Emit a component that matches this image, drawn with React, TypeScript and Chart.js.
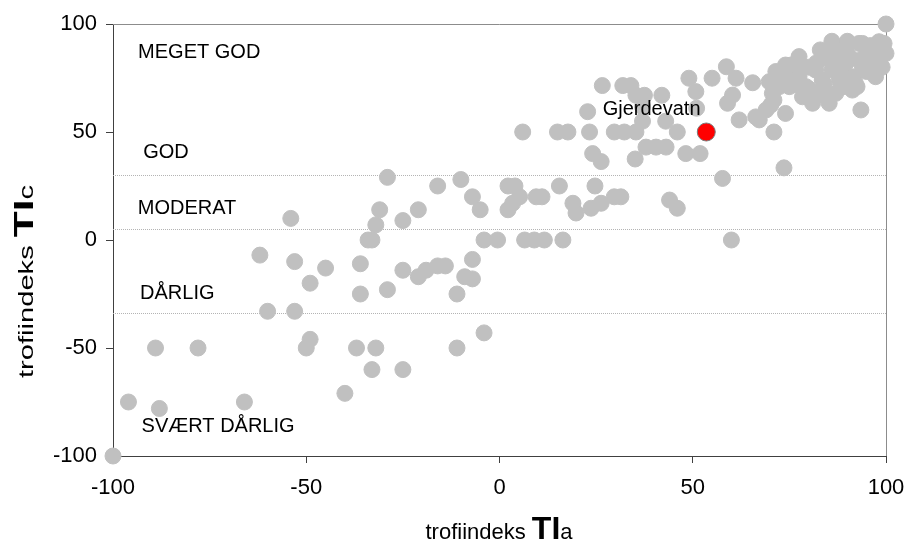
import React, { useEffect, useRef } from "react";
import { Chart, registerables } from "chart.js";

Chart.register(...registerables);

// Trofiindeks TIa (x) and TIc (y) for all lakes
const taValues = [
  -100, -96, -89, -88, -78, -66, -62, -60, -54, -53, -53, -49, -45, -50, -49, -37, -40, -36, -36, -34,
  -33, -32, -31, -29, -32, -33, -29, -25, -25, -21, -19, -16, -14, -11, -11, -9, -7, -7, -4, -25,
  -21, -16, -10, -7, -5, -4, -0.5,
  6.5, 9, 11.6, 16.4, 60, 2.2, 4, 5.2, 3.4, 2.2, 9.5, 11, 15.5, 19, 19.8, 23.7, 26.3, 24.7, 29.7,
  31.4, 44, 46, 57.7, 73.6,
  6, 15, 17.7, 23.3, 29.7, 32.3, 35.3, 46, 71,
  24.1, 26.3, 35.1, 37.9, 40.5, 43.1, 48.2, 51.9,
  22.8, 26.6, 31.9, 34, 35.3, 37.5, 37, 42, 49, 50.8, 55, 58.7, 61.2, 65.5, 59, 60.3, 62, 67.2, 74,
  93.5, 51, 37, 43,
  100, 98.2, 100, 95.6, 93, 89.6, 86, 83, 77.5, 74, 71.5, 69.8, 70.6, 70.2, 69, 66.3, 78.4, 81, 85.3,
  91.3, 81.8, 86, 89.6, 93.9, 97.3, 97.3, 99, 77.5, 75, 83.5, 87.9, 91.3, 87, 79.3, 72.4, 76.5, 84,
  92.5, 95, 88, 80, 90, 96, 99, 94, 72, 75.4, 71, 99.5, 93.9,
  82, 85, 91, 95, 88, 92, 80, 84, 96, 90, 86, 78, 74, 81, 89,
];
const tcValues = [
  -100, -75, -50, -78, -50, -75, -7, -33, 10, -10, -33, -20, -13, -50, -46, -50, -71, -11, -25, 0,
  0, 7, 14, 29, -50, -60, -23, -60, -14, -17, -14, -12, -12, -25, -50, -17, -18, -9, -43, 9,
  14, 25, 28, 20, 14, 0, 0,
  0, 0, 0, 0, 0, 25, 25, 20, 17, 14, 20, 20, 25, 17, 12.5, 14.7, 17, 25, 20,
  20, 18.5, 14.7, 28.5, 33.4,
  50, 50, 50, 50, 50, 50, 50, 50, 50,
  40, 36.3, 37.5, 43, 43, 43, 40, 40,
  59.4, 71.5, 71.5, 71.5, 67, 67, 61.7, 67, 74.9, 68.7, 74.9, 80.2, 74.9, 72.8, 63.3, 67.1, 55.6, 55.6, 58.6,
  60.2, 61, 55, 55,
  100, 91.8, 86.4, 89.5, 91, 89.5, 88.7, 88, 84.9, 81, 78, 73.3, 67.9, 62.5, 60.2, 57, 66.3, 63.3, 63.3,
  69.4, 78.7, 78.7, 81.8, 80.2, 75.6, 83.3, 89.5, 75.6, 71, 74, 74, 75.6, 67.9, 71, 71, 72, 67,
  71, 78, 84, 80, 86, 86, 80, 84, 75.6, 81, 64.8, 91, 91,
  82, 84, 84, 82, 78, 73, 70, 72, 90, 92, 92, 80, 76, 68, 71,
];

// Highlighted lake
const highlightName = "Gjerdevatn";
const highlightTa = [53.5];
const highlightTc = [50];
const highlightLabelTa = 26.7;
const highlightLabelTc = 60.5;

// Axis
const axisMin = -100;
const axisMax = 100;
const axisStep = 50;

// Class boundaries (dotted lines) and class names
const classBounds = [30, 5, -34];
const classNames = ["MEGET GOD", "GOD", "MODERAT", "DÅRLIG", "SVÆRT DÅRLIG"];
const classLabelTa = [-93.5, -92.2, -93.6, -93, -92.6];
const classLabelTc = [87, 40.6, 14.7, -24.7, -86.4];

const FONT = "'Liberation Sans', Arial, Helvetica, sans-serif";

type Part = { text: string; font: string };
const xTitleParts: Part[] = [
  { text: "trofiindeks ", font: `22px ${FONT}` },
  { text: "TI", font: `bold 32px ${FONT}` },
  { text: "a", font: `22px ${FONT}` },
];
const yTitleParts: Part[] = [
  { text: "trofiindeks ", font: `22px ${FONT}` },
  { text: "TI", font: `bold 32px ${FONT}` },
  { text: "c", font: `22px ${FONT}` },
];

function partsWidth(ctx: CanvasRenderingContext2D, parts: Part[]) {
  let w = 0;
  for (const p of parts) {
    ctx.font = p.font;
    w += ctx.measureText(p.text).width;
  }
  return w;
}

function drawParts(ctx: CanvasRenderingContext2D, parts: Part[], startX: number, baseY: number) {
  let x = startX;
  ctx.textBaseline = "alphabetic";
  ctx.textAlign = "left";
  for (const p of parts) {
    ctx.font = p.font;
    ctx.fillText(p.text, x, baseY);
    x += ctx.measureText(p.text).width;
  }
}

export default function App() {
  const ref = useRef<HTMLCanvasElement>(null);

  useEffect(() => {
    document.body.style.margin = "0";
    const canvas = ref.current;
    if (!canvas) return;

    const overlay = {
      id: "overlay",
      beforeDatasetsDraw(chart: any) {
        const { ctx, chartArea: a, scales } = chart;
        ctx.save();
        ctx.strokeStyle = "#b4b4b4";
        ctx.lineWidth = 1;
        ctx.setLineDash([1, 1]);
        for (const b of classBounds) {
          const py = Math.round(scales.y.getPixelForValue(b)) + 0.5;
          ctx.beginPath();
          ctx.moveTo(a.left, py);
          ctx.lineTo(a.right, py);
          ctx.stroke();
        }
        ctx.setLineDash([]);
        ctx.strokeStyle = "#8c8c8c";
        ctx.beginPath();
        ctx.moveTo(a.left, Math.round(a.top) + 0.5);
        ctx.lineTo(Math.round(a.right) + 0.5, Math.round(a.top) + 0.5);
        ctx.lineTo(Math.round(a.right) + 0.5, a.bottom);
        ctx.stroke();
        ctx.restore();
      },
      afterDatasetsDraw(chart: any) {
        const { ctx, scales } = chart;
        ctx.save();
        ctx.fillStyle = "#000";
        ctx.textAlign = "left";
        ctx.textBaseline = "middle";
        ctx.font = `20px ${FONT}`;
        classNames.forEach((name, i) => {
          ctx.fillText(name, scales.x.getPixelForValue(classLabelTa[i]), scales.y.getPixelForValue(classLabelTc[i]));
        });
        ctx.fillText(highlightName, scales.x.getPixelForValue(highlightLabelTa), scales.y.getPixelForValue(highlightLabelTc));
        ctx.restore();
      },
      afterDraw(chart: any) {
        const { ctx, chartArea: a } = chart;
        ctx.save();
        ctx.fillStyle = "#000";
        // x title
        const wx = partsWidth(ctx, xTitleParts);
        const cx = (a.left + a.right) / 2 - 0.5;
        drawParts(ctx, xTitleParts, cx - wx / 2, 539);
        // y title (rotated, stretched)
        const wy = partsWidth(ctx, yTitleParts);
        const targetLen = 193;
        const sx = targetLen / wy;
        ctx.translate(33, 281.5);
        ctx.rotate(-Math.PI / 2);
        ctx.scale(sx, 0.88);
        drawParts(ctx, yTitleParts, -wy / 2, 0);
        ctx.restore();
      },
    };

    const chart = new Chart(canvas, {
      type: "scatter",
      data: {
        datasets: [
          {
            label: highlightName,
            data: highlightTa.map((x, i) => ({ x, y: highlightTc[i] })),
            backgroundColor: "#ff0000",
            borderColor: "#7a7a7a",
            borderWidth: 1,
            pointRadius: 9,
          },
          {
            label: "innsjøer",
            data: taValues.map((x, i) => ({ x, y: tcValues[i] })),
            backgroundColor: "#c0c0c0",
            borderColor: "#c0c0c0",
            borderWidth: 1,
            pointRadius: 8,
          },
        ],
      },
      options: {
        animation: false,
        responsive: false,
        devicePixelRatio: 1,
        events: [],
        clip: false,
        layout: { autoPadding: false, padding: { left: 0, top: 24, right: 20, bottom: 0 } },
        plugins: {
          legend: { display: false },
          tooltip: { enabled: false },
          title: { display: false },
        },
        scales: {
          x: {
            type: "linear",
            min: axisMin,
            max: axisMax,
            ticks: {
              stepSize: axisStep,
              color: "#000",
              font: { family: FONT, size: 22, lineHeight: 2.3 },
              padding: 0,
              maxRotation: 0,
            },
            grid: { display: true, drawOnChartArea: false, drawTicks: true, tickLength: 7, color: "#404040" },
            border: { display: true, color: "#404040", width: 1 },
            afterFit(scale: any) {
              scale.height = 85;
            },
          },
          y: {
            type: "linear",
            min: axisMin,
            max: axisMax,
            ticks: {
              stepSize: axisStep,
              color: "#000",
              font: { family: FONT, size: 22 },
              padding: 9,
            },
            grid: { display: true, drawOnChartArea: false, drawTicks: true, tickLength: 7, color: "#404040" },
            border: { display: true, color: "#404040", width: 1 },
            afterFit(scale: any) {
              scale.width = 113;
            },
          },
        },
      },
      plugins: [overlay],
    } as any);

    return () => chart.destroy();
  }, []);

  return (
    <div style={{ width: 906, height: 541, background: "#fff" }}>
      <canvas ref={ref} width={906} height={541} style={{ width: 906, height: 541, display: "block" }} />
    </div>
  );
}
